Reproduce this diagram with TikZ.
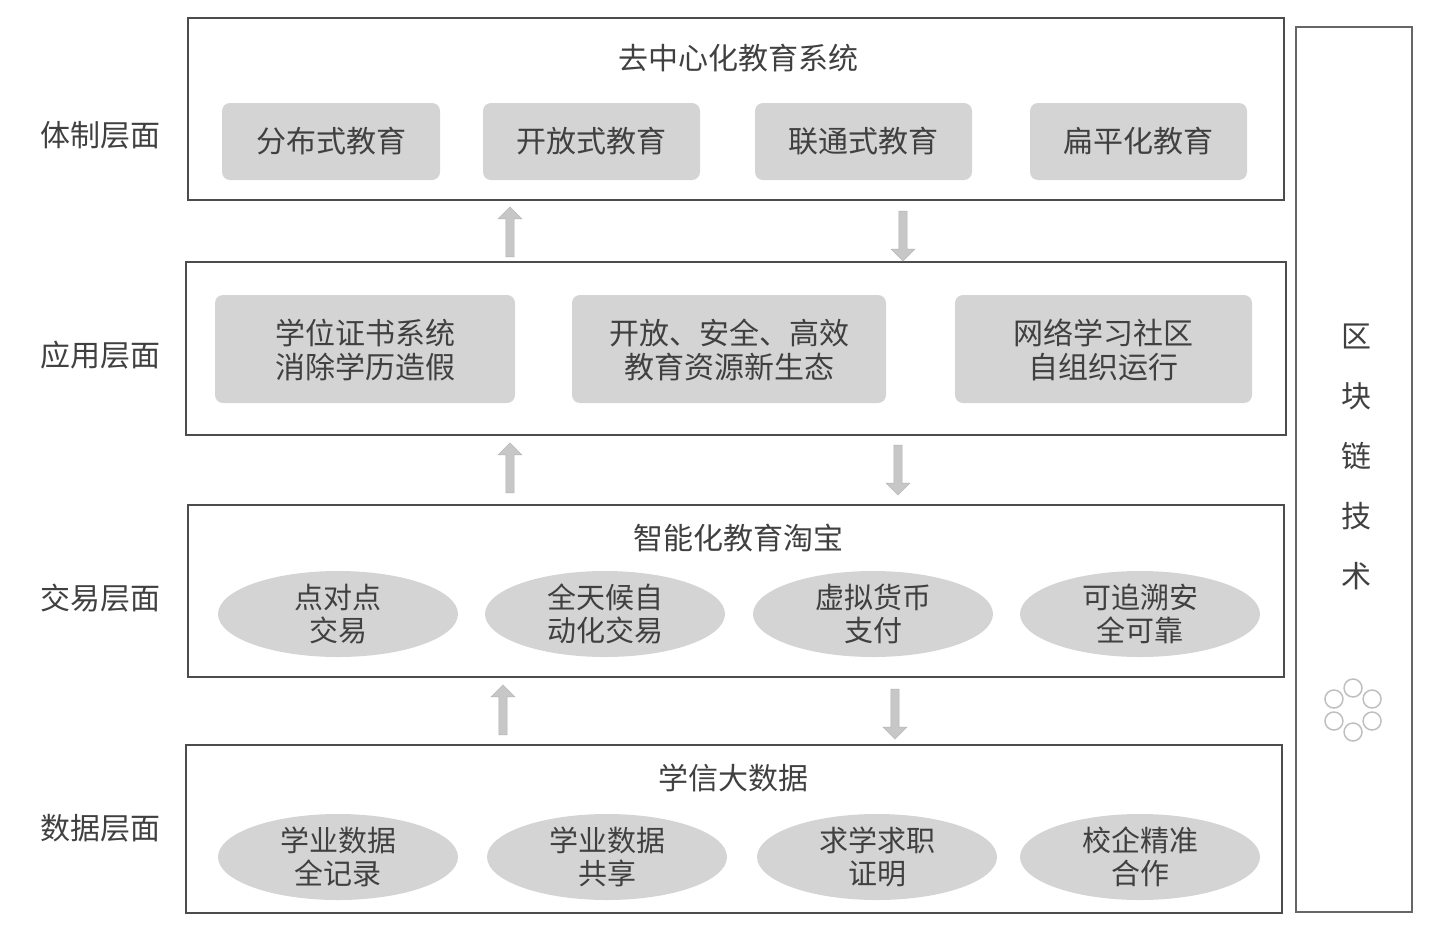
\documentclass[tikz,border=0pt]{standalone}
\usepackage{fontspec}
\setmainfont{Noto Sans CJK SC}
\usetikzlibrary{shapes.geometric,shapes.arrows}
\begin{document}
\begin{tikzpicture}[x=1pt,y=-1pt,
 layer/.style={draw=black!70,line width=2pt},
 rbox/.style={fill=black!17,rounded corners=8pt,text=black!75,font=\fontsize{30}{34}\selectfont,align=center,inner sep=0pt},
 ell/.style={ellipse,fill=black!17,minimum width=240pt,minimum height=86pt,text=black!75,font=\fontsize{29}{33}\selectfont,align=center,inner sep=0pt},
 lbl/.style={text=black!75,font=\fontsize{30}{34}\selectfont},
 ttl/.style={text=black!75,font=\fontsize{30}{34}\selectfont},
 fat/.style={single arrow,fill=black!22,draw=black!30,single arrow head extend=6pt,minimum width=24pt,inner sep=3pt,minimum height=50pt}]
\useasboundingbox (0,0) rectangle (1440,935);
% layers
\draw[layer] (188,18) rectangle (1284,200);
\draw[layer] (186,262) rectangle (1286,435);
\draw[layer] (188,505) rectangle (1284,677);
\draw[layer] (186,745) rectangle (1282,913);
\draw[layer,draw=black!60] (1296,27) rectangle (1412,912);
% left labels
\node[lbl] (l1) at (100,135) {体制层面};
\node[lbl] (l2) at (100,355) {应用层面};
\node[lbl] (l3) at (100,598) {交易层面};
\node[lbl] (l4) at (100,828) {数据层面};
% layer 1
\node[ttl] (t1) at (738,58) {去中心化教育系统};
\fill[rbox] (222,103) rectangle (440,180); \node[rbox] (a1) at (331,141) {分布式教育};
\fill[rbox] (483,103) rectangle (700,180); \node[rbox] (a2) at (591,141) {开放式教育};
\fill[rbox] (755,103) rectangle (972,180); \node[rbox] (a3) at (863,141) {联通式教育};
\fill[rbox] (1030,103) rectangle (1247,180); \node[rbox] (a4) at (1138,141) {扁平化教育};
% layer 2
\fill[rbox] (215,295) rectangle (515,403); \node[rbox] (b1) at (365,350) {学位证书系统\\消除学历造假};
\fill[rbox] (572,295) rectangle (886,403); \node[rbox] (b2) at (729,350) {开放、安全、高效\\教育资源新生态};
\fill[rbox] (955,295) rectangle (1252,403); \node[rbox] (b3) at (1103,350) {网络学习社区\\自组织运行};
% layer 3
\node[ttl] (t3) at (738,538) {智能化教育淘宝};
\node[ell] (c1) at (338,614) {点对点\\交易};
\node[ell] (c2) at (605,614) {全天候自\\动化交易};
\node[ell] (c3) at (873,614) {虚拟货币\\支付};
\node[ell] (c4) at (1140,614) {可追溯安\\全可靠};
% layer 4
\node[ttl] (t4) at (733,778) {学信大数据};
\node[ell] (d1) at (338,857) {学业数据\\全记录};
\node[ell] (d2) at (607,857) {学业数据\\共享};
\node[ell] (d3) at (877,857) {求学求职\\证明};
\node[ell] (d4) at (1140,857) {校企精准\\合作};
% arrows
\node[fat,rotate=90] (u1) at (510,234) {};
\node[fat,rotate=-90] (v1) at (903,234) {};
\node[fat,rotate=90] (u2) at (510,470) {};
\node[fat,rotate=-90] (v2) at (898,468) {};
\node[fat,rotate=90] (u3) at (503,712) {};
\node[fat,rotate=-90] (v3) at (895,712) {};
% right column
\node[lbl,align=center,font=\fontsize{30}{60}\selectfont] (bc) at (1356,457) {区\\块\\链\\技\\术};
% icon
\foreach \a in {0,60,...,300}
  \draw[black!25,line width=1.5pt] ({1353+22*cos(\a+30)},{710+22*sin(\a+30)}) circle (9);
\end{tikzpicture}
\end{document}
